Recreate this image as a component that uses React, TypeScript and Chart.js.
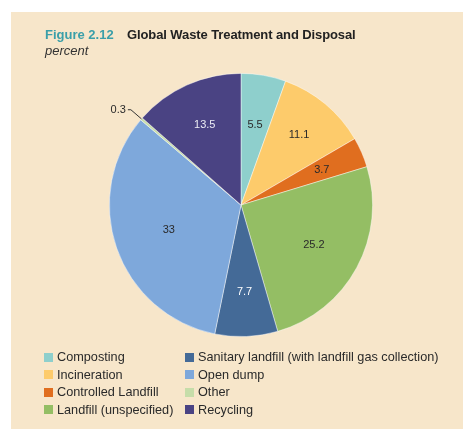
import React, { useEffect, useRef } from "react";
import { Chart, registerables } from "chart.js";

Chart.register(...registerables);

const categories = [
  "Composting",
  "Incineration",
  "Controlled Landfill",
  "Landfill (unspecified)",
  "Sanitary landfill (with landfill gas collection)",
  "Open dump",
  "Other",
  "Recycling",
];
const values = [5.5, 11.1, 3.7, 25.2, 7.7, 33, 0.3, 13.5];
const valueLabels = ["5.5", "11.1", "3.7", "25.2", "7.7", "33", "0.3", "13.5"];
const colors = ["#8ECFCC", "#FDCB6B", "#E06E1F", "#94BE64", "#446A97", "#7EA8DB", "#C6DDA9", "#4A4383"];
const labelColors = ["#2a2a2a", "#2a2a2a", "#2a2a2a", "#2a2a2a", "#ffffff", "#2a2a2a", "#2a2a2a", "#ececf4"];
const labelRadius = [0.62, 0.69, 0.67, 0.63, 0.66, 0.58, -1, 0.67];
const legendOrder = [0, 4, 1, 5, 2, 6, 3, 7];

const FONT = "'Liberation Sans', Arial, Helvetica, sans-serif";

const labelPlugin = {
  id: "sliceLabels",
  afterDatasetsDraw(chart: any) {
    const ctx = chart.ctx;
    const meta = chart.getDatasetMeta(0);
    ctx.save();
    ctx.font = `11px ${FONT}`;
    meta.data.forEach((arc: any, i: number) => {
      const p = arc.getProps(["x", "y", "startAngle", "endAngle", "outerRadius"], true);
      const mid = (p.startAngle + p.endAngle) / 2;
      const frac = labelRadius[i];
      if (frac > 0) {
        const r = p.outerRadius * frac;
        ctx.fillStyle = labelColors[i];
        ctx.textAlign = "center";
        ctx.textBaseline = "middle";
        ctx.fillText(valueLabels[i], p.x + r * Math.cos(mid), p.y + r * Math.sin(mid));
      } else {
        const ex = p.x + p.outerRadius * Math.cos(mid);
        const ey = p.y + p.outerRadius * Math.sin(mid);
        const ox = p.x + (p.outerRadius + 14) * Math.cos(mid);
        const oy = p.y + (p.outerRadius + 14) * Math.sin(mid);
        ctx.strokeStyle = "#333";
        ctx.lineWidth = 1;
        ctx.beginPath();
        ctx.moveTo(ex, ey);
        ctx.lineTo(ox, oy);
        ctx.lineTo(ox - 3, oy);
        ctx.stroke();
        ctx.fillStyle = "#2a2a2a";
        ctx.textAlign = "right";
        ctx.textBaseline = "middle";
        ctx.fillText(valueLabels[i], ox - 5, oy);
      }
    });
    ctx.restore();
  },
};

export default function App() {
  const ref = useRef<HTMLCanvasElement | null>(null);
  useEffect(() => {
    if (!ref.current) return;
    const chart = new Chart(ref.current, {
      type: "pie",
      data: {
        labels: categories,
        datasets: [
          {
            data: values,
            backgroundColor: colors,
            borderColor: "rgba(255,255,255,0.55)",
            borderWidth: 0.8,
          },
        ],
      },
      options: {
        responsive: false,
        animation: false,
        layout: { padding: { left: 109, top: 73, right: 90, bottom: 93 } },
        plugins: { legend: { display: false }, tooltip: { enabled: false } },
      },
      plugins: [labelPlugin],
    });
    return () => chart.destroy();
  }, []);

  return (
    <div style={{ position: "absolute", left: 0, top: 0, width: 463, height: 430, background: "#ffffff", overflow: "hidden" }}>
      <div style={{ position: "absolute", left: 11, top: 12, width: 452, height: 417, background: "#F7E6CA" }} />
      <canvas ref={ref} width={463} height={430} style={{ position: "absolute", left: 0, top: 0, width: 463, height: 430 }} />
      <div style={{ position: "absolute", left: 45, top: 27, fontFamily: FONT, fontSize: 13, fontWeight: "bold", whiteSpace: "nowrap", lineHeight: "15px" }}>
        <span style={{ color: "#3A9FA9" }}>Figure 2.12</span>
        <span style={{ color: "#222", position: "absolute", left: 82, letterSpacing: "-0.1px" }}>Global Waste Treatment and Disposal</span>
      </div>
      <div style={{ position: "absolute", left: 45, top: 43, fontFamily: FONT, fontSize: 13, fontStyle: "italic", color: "#333", lineHeight: "15px" }}>percent</div>
      {legendOrder.map((idx, k) => {
        const col = k % 2;
        const row = Math.floor(k / 2);
        const left = col === 0 ? 44 : 185;
        const top = 349 + row * 17.6;
        return (
          <div key={idx} style={{ position: "absolute", left, top, height: 16, display: "flex", alignItems: "center", whiteSpace: "nowrap", fontFamily: FONT, fontSize: 12.7, color: "#2a2a2a" }}>
            <span style={{ display: "inline-block", width: 9, height: 9, background: colors[idx], marginRight: 4 }} />
            <span>{categories[idx]}</span>
          </div>
        );
      })}
    </div>
  );
}
